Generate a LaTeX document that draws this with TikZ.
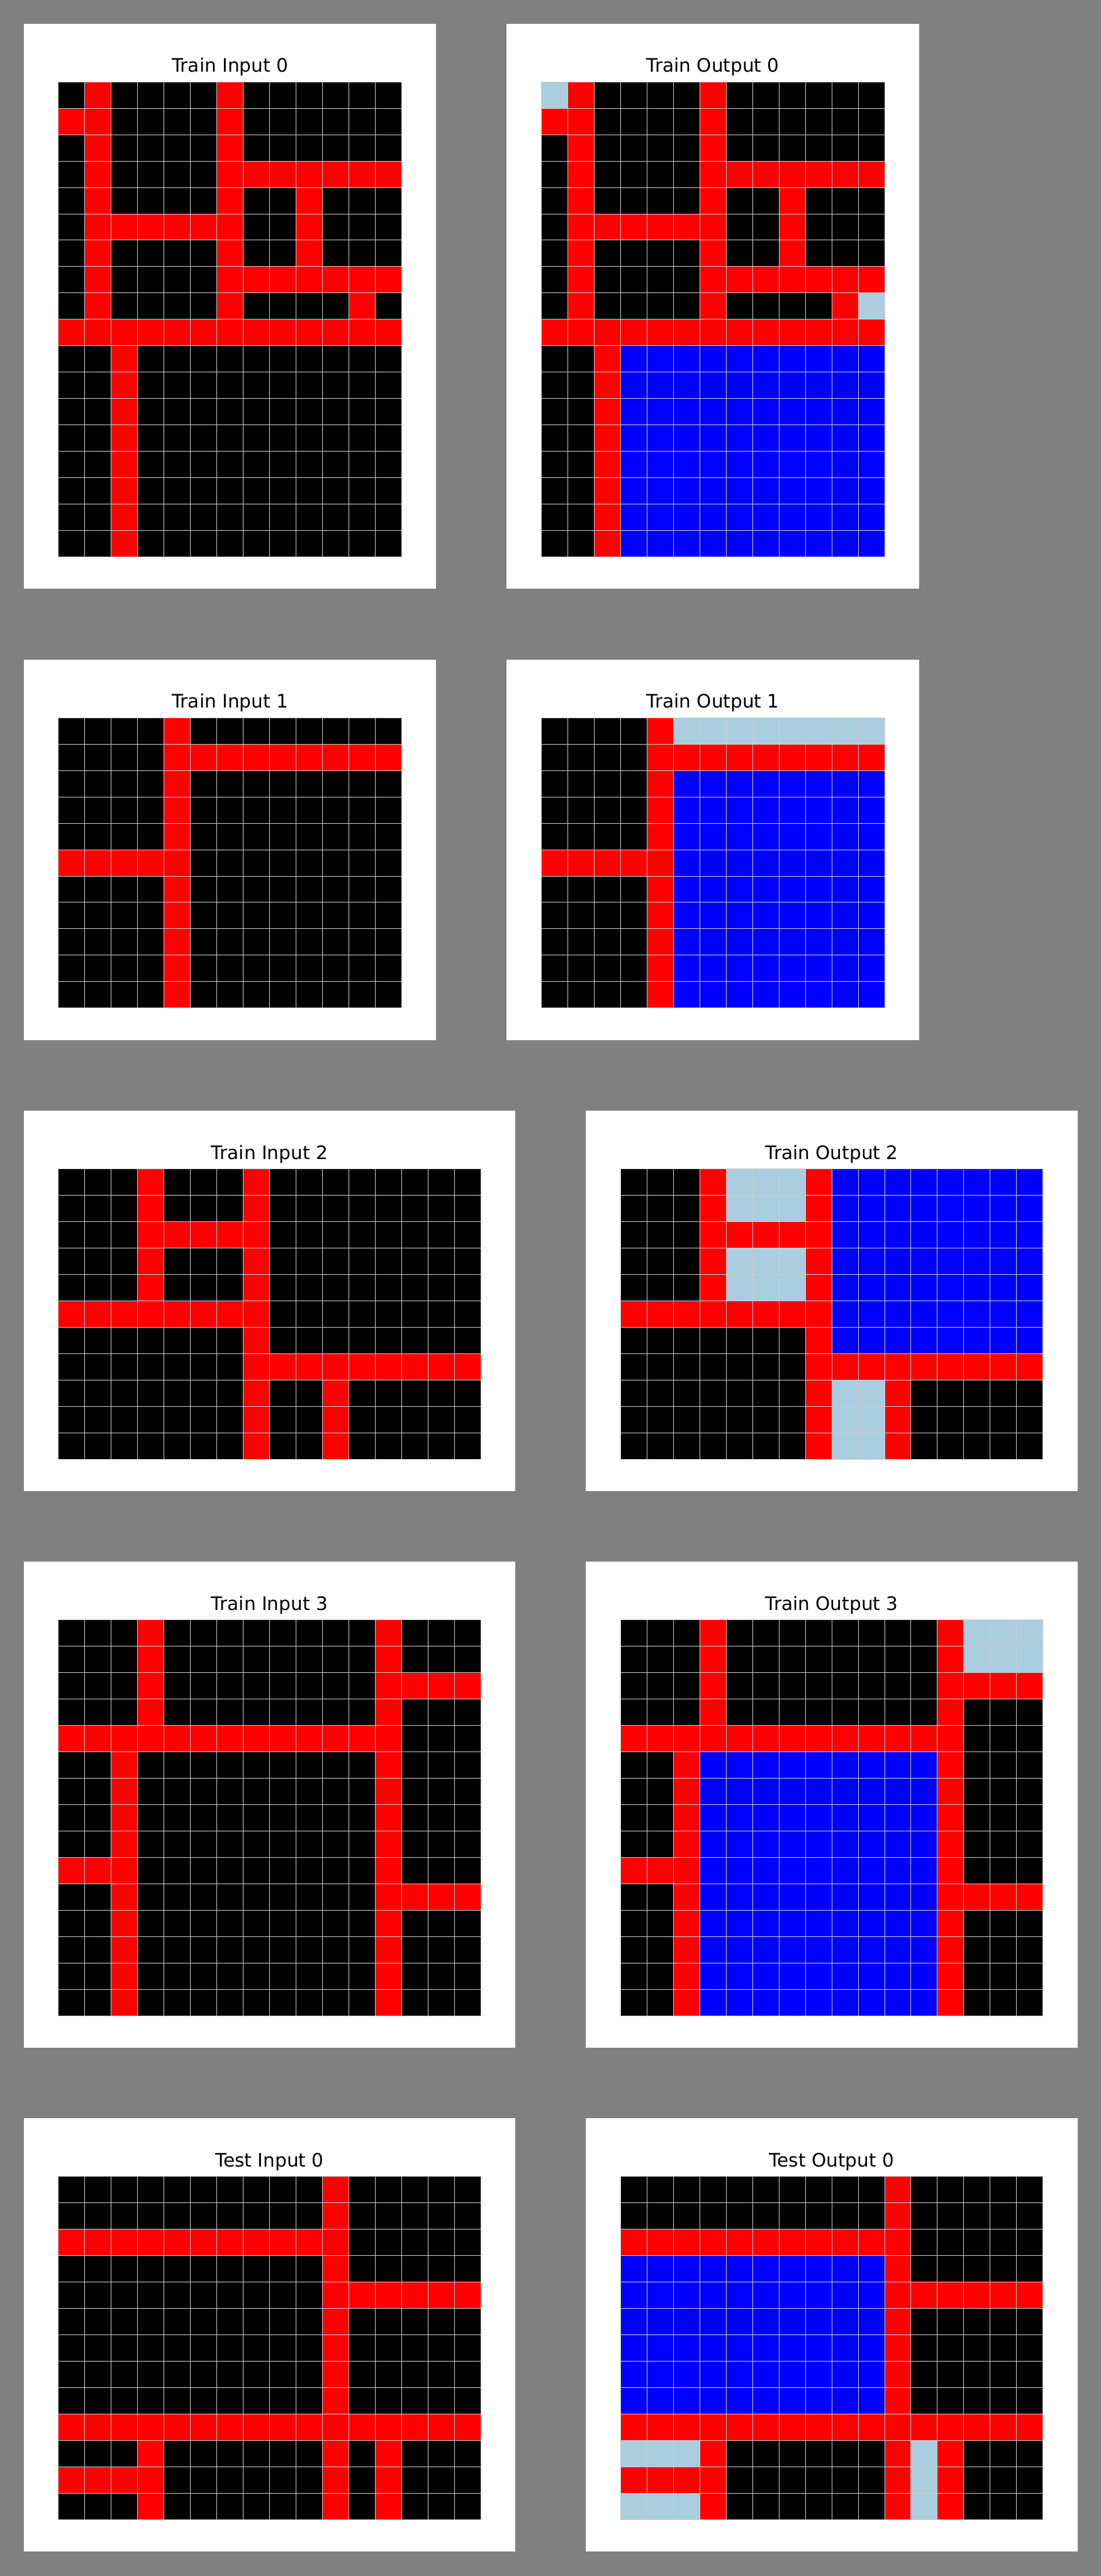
\documentclass[tikz,border=0pt]{standalone}
\usepackage{fontspec}
\setmainfont{DejaVu Sans}
\definecolor{col0}{RGB}{0,0,0}
\definecolor{col1}{RGB}{0,0,255}
\definecolor{col2}{RGB}{255,0,0}
\definecolor{col8}{RGB}{171,205,224}
\definecolor{bggray}{RGB}{128,128,128}
\definecolor{gridln}{RGB}{205,205,205}
\newcommand\cellsz{16.07}
\tikzset{
  paneltitle/.style={font=\fontsize{16.1}{19}\selectfont, anchor=base, inner sep=0pt},
  gridline/.style={draw=gridln, line width=0.45pt},
  panelbox/.style={fill=white}
}
% #1 name, #2 bx, #3 by, #4 ncols, #5 nrows, #6 title, #7 rows
\newcommand\arcpanel[7]{%
  \pgfmathsetmacro\pw{#4*\cellsz+42}%
  \pgfmathsetmacro\ph{#5*\cellsz+54.8}%
  \fill[panelbox] (#2,#3) rectangle ++(\pw,\ph);
  \node[paneltitle] (#1) at ({#2+\pw/2},{#3+29.5}) {#6};
  \foreach \rowlist [count=\r from 0] in {#7} {
    \foreach \v [count=\c from 0] in \rowlist {
      \fill[fill=col\v] ({#2+21+\c*\cellsz},{#3+35.3+\r*\cellsz}) rectangle ++(\cellsz,\cellsz);
    }
  }
  \foreach \i in {0,...,#4} \draw[gridline] ({#2+21+\i*\cellsz},{#3+35.3}) -- ++(0,{#5*\cellsz});
  \foreach \j in {0,...,#5} \draw[gridline] ({#2+21},{#3+35.3+\j*\cellsz}) -- ++({#4*\cellsz},0);
}
\begin{document}
\begin{tikzpicture}[x=0.05cm, y=-0.05cm]
\fill[bggray] (0,0) rectangle (670,1568.3);
\useasboundingbox (0,0) rectangle (670,1568.3);

\arcpanel{tin0}{14.5}{14.5}{13}{18}{Train Input 0}{
{0,2,0,0,0,0,2,0,0,0,0,0,0},
{2,2,0,0,0,0,2,0,0,0,0,0,0},
{0,2,0,0,0,0,2,0,0,0,0,0,0},
{0,2,0,0,0,0,2,2,2,2,2,2,2},
{0,2,0,0,0,0,2,0,0,2,0,0,0},
{0,2,2,2,2,2,2,0,0,2,0,0,0},
{0,2,0,0,0,0,2,0,0,2,0,0,0},
{0,2,0,0,0,0,2,2,2,2,2,2,2},
{0,2,0,0,0,0,2,0,0,0,0,2,0},
{2,2,2,2,2,2,2,2,2,2,2,2,2},
{0,0,2,0,0,0,0,0,0,0,0,0,0},
{0,0,2,0,0,0,0,0,0,0,0,0,0},
{0,0,2,0,0,0,0,0,0,0,0,0,0},
{0,0,2,0,0,0,0,0,0,0,0,0,0},
{0,0,2,0,0,0,0,0,0,0,0,0,0},
{0,0,2,0,0,0,0,0,0,0,0,0,0},
{0,0,2,0,0,0,0,0,0,0,0,0,0},
{0,0,2,0,0,0,0,0,0,0,0,0,0}}

\arcpanel{tout0}{308.4}{14.5}{13}{18}{Train Output 0}{
{8,2,0,0,0,0,2,0,0,0,0,0,0},
{2,2,0,0,0,0,2,0,0,0,0,0,0},
{0,2,0,0,0,0,2,0,0,0,0,0,0},
{0,2,0,0,0,0,2,2,2,2,2,2,2},
{0,2,0,0,0,0,2,0,0,2,0,0,0},
{0,2,2,2,2,2,2,0,0,2,0,0,0},
{0,2,0,0,0,0,2,0,0,2,0,0,0},
{0,2,0,0,0,0,2,2,2,2,2,2,2},
{0,2,0,0,0,0,2,0,0,0,0,2,8},
{2,2,2,2,2,2,2,2,2,2,2,2,2},
{0,0,2,1,1,1,1,1,1,1,1,1,1},
{0,0,2,1,1,1,1,1,1,1,1,1,1},
{0,0,2,1,1,1,1,1,1,1,1,1,1},
{0,0,2,1,1,1,1,1,1,1,1,1,1},
{0,0,2,1,1,1,1,1,1,1,1,1,1},
{0,0,2,1,1,1,1,1,1,1,1,1,1},
{0,0,2,1,1,1,1,1,1,1,1,1,1},
{0,0,2,1,1,1,1,1,1,1,1,1,1}}

\arcpanel{tin1}{14.5}{401.6}{13}{11}{Train Input 1}{
{0,0,0,0,2,0,0,0,0,0,0,0,0},
{0,0,0,0,2,2,2,2,2,2,2,2,2},
{0,0,0,0,2,0,0,0,0,0,0,0,0},
{0,0,0,0,2,0,0,0,0,0,0,0,0},
{0,0,0,0,2,0,0,0,0,0,0,0,0},
{2,2,2,2,2,0,0,0,0,0,0,0,0},
{0,0,0,0,2,0,0,0,0,0,0,0,0},
{0,0,0,0,2,0,0,0,0,0,0,0,0},
{0,0,0,0,2,0,0,0,0,0,0,0,0},
{0,0,0,0,2,0,0,0,0,0,0,0,0},
{0,0,0,0,2,0,0,0,0,0,0,0,0}}

\arcpanel{tout1}{308.4}{401.6}{13}{11}{Train Output 1}{
{0,0,0,0,2,8,8,8,8,8,8,8,8},
{0,0,0,0,2,2,2,2,2,2,2,2,2},
{0,0,0,0,2,1,1,1,1,1,1,1,1},
{0,0,0,0,2,1,1,1,1,1,1,1,1},
{0,0,0,0,2,1,1,1,1,1,1,1,1},
{2,2,2,2,2,1,1,1,1,1,1,1,1},
{0,0,0,0,2,1,1,1,1,1,1,1,1},
{0,0,0,0,2,1,1,1,1,1,1,1,1},
{0,0,0,0,2,1,1,1,1,1,1,1,1},
{0,0,0,0,2,1,1,1,1,1,1,1,1},
{0,0,0,0,2,1,1,1,1,1,1,1,1}}

\arcpanel{tin2}{14.5}{676.2}{16}{11}{Train Input 2}{
{0,0,0,2,0,0,0,2,0,0,0,0,0,0,0,0},
{0,0,0,2,0,0,0,2,0,0,0,0,0,0,0,0},
{0,0,0,2,2,2,2,2,0,0,0,0,0,0,0,0},
{0,0,0,2,0,0,0,2,0,0,0,0,0,0,0,0},
{0,0,0,2,0,0,0,2,0,0,0,0,0,0,0,0},
{2,2,2,2,2,2,2,2,0,0,0,0,0,0,0,0},
{0,0,0,0,0,0,0,2,0,0,0,0,0,0,0,0},
{0,0,0,0,0,0,0,2,2,2,2,2,2,2,2,2},
{0,0,0,0,0,0,0,2,0,0,2,0,0,0,0,0},
{0,0,0,0,0,0,0,2,0,0,2,0,0,0,0,0},
{0,0,0,0,0,0,0,2,0,0,2,0,0,0,0,0}}

\arcpanel{tout2}{356.6}{676.2}{16}{11}{Train Output 2}{
{0,0,0,2,8,8,8,2,1,1,1,1,1,1,1,1},
{0,0,0,2,8,8,8,2,1,1,1,1,1,1,1,1},
{0,0,0,2,2,2,2,2,1,1,1,1,1,1,1,1},
{0,0,0,2,8,8,8,2,1,1,1,1,1,1,1,1},
{0,0,0,2,8,8,8,2,1,1,1,1,1,1,1,1},
{2,2,2,2,2,2,2,2,1,1,1,1,1,1,1,1},
{0,0,0,0,0,0,0,2,1,1,1,1,1,1,1,1},
{0,0,0,0,0,0,0,2,2,2,2,2,2,2,2,2},
{0,0,0,0,0,0,0,2,8,8,2,0,0,0,0,0},
{0,0,0,0,0,0,0,2,8,8,2,0,0,0,0,0},
{0,0,0,0,0,0,0,2,8,8,2,0,0,0,0,0}}

\arcpanel{tin3}{14.5}{950.8}{16}{15}{Train Input 3}{
{0,0,0,2,0,0,0,0,0,0,0,0,2,0,0,0},
{0,0,0,2,0,0,0,0,0,0,0,0,2,0,0,0},
{0,0,0,2,0,0,0,0,0,0,0,0,2,2,2,2},
{0,0,0,2,0,0,0,0,0,0,0,0,2,0,0,0},
{2,2,2,2,2,2,2,2,2,2,2,2,2,0,0,0},
{0,0,2,0,0,0,0,0,0,0,0,0,2,0,0,0},
{0,0,2,0,0,0,0,0,0,0,0,0,2,0,0,0},
{0,0,2,0,0,0,0,0,0,0,0,0,2,0,0,0},
{0,0,2,0,0,0,0,0,0,0,0,0,2,0,0,0},
{2,2,2,0,0,0,0,0,0,0,0,0,2,0,0,0},
{0,0,2,0,0,0,0,0,0,0,0,0,2,2,2,2},
{0,0,2,0,0,0,0,0,0,0,0,0,2,0,0,0},
{0,0,2,0,0,0,0,0,0,0,0,0,2,0,0,0},
{0,0,2,0,0,0,0,0,0,0,0,0,2,0,0,0},
{0,0,2,0,0,0,0,0,0,0,0,0,2,0,0,0}}

\arcpanel{tout3}{356.6}{950.8}{16}{15}{Train Output 3}{
{0,0,0,2,0,0,0,0,0,0,0,0,2,8,8,8},
{0,0,0,2,0,0,0,0,0,0,0,0,2,8,8,8},
{0,0,0,2,0,0,0,0,0,0,0,0,2,2,2,2},
{0,0,0,2,0,0,0,0,0,0,0,0,2,0,0,0},
{2,2,2,2,2,2,2,2,2,2,2,2,2,0,0,0},
{0,0,2,1,1,1,1,1,1,1,1,1,2,0,0,0},
{0,0,2,1,1,1,1,1,1,1,1,1,2,0,0,0},
{0,0,2,1,1,1,1,1,1,1,1,1,2,0,0,0},
{0,0,2,1,1,1,1,1,1,1,1,1,2,0,0,0},
{2,2,2,1,1,1,1,1,1,1,1,1,2,0,0,0},
{0,0,2,1,1,1,1,1,1,1,1,1,2,2,2,2},
{0,0,2,1,1,1,1,1,1,1,1,1,2,0,0,0},
{0,0,2,1,1,1,1,1,1,1,1,1,2,0,0,0},
{0,0,2,1,1,1,1,1,1,1,1,1,2,0,0,0},
{0,0,2,1,1,1,1,1,1,1,1,1,2,0,0,0}}

\arcpanel{tstin0}{14.5}{1289.65}{16}{13}{Test Input 0}{
{0,0,0,0,0,0,0,0,0,0,2,0,0,0,0,0},
{0,0,0,0,0,0,0,0,0,0,2,0,0,0,0,0},
{2,2,2,2,2,2,2,2,2,2,2,0,0,0,0,0},
{0,0,0,0,0,0,0,0,0,0,2,0,0,0,0,0},
{0,0,0,0,0,0,0,0,0,0,2,2,2,2,2,2},
{0,0,0,0,0,0,0,0,0,0,2,0,0,0,0,0},
{0,0,0,0,0,0,0,0,0,0,2,0,0,0,0,0},
{0,0,0,0,0,0,0,0,0,0,2,0,0,0,0,0},
{0,0,0,0,0,0,0,0,0,0,2,0,0,0,0,0},
{2,2,2,2,2,2,2,2,2,2,2,2,2,2,2,2},
{0,0,0,2,0,0,0,0,0,0,2,0,2,0,0,0},
{2,2,2,2,0,0,0,0,0,0,2,0,2,0,0,0},
{0,0,0,2,0,0,0,0,0,0,2,0,2,0,0,0}}

\arcpanel{tstout0}{356.6}{1289.65}{16}{13}{Test Output 0}{
{0,0,0,0,0,0,0,0,0,0,2,0,0,0,0,0},
{0,0,0,0,0,0,0,0,0,0,2,0,0,0,0,0},
{2,2,2,2,2,2,2,2,2,2,2,0,0,0,0,0},
{1,1,1,1,1,1,1,1,1,1,2,0,0,0,0,0},
{1,1,1,1,1,1,1,1,1,1,2,2,2,2,2,2},
{1,1,1,1,1,1,1,1,1,1,2,0,0,0,0,0},
{1,1,1,1,1,1,1,1,1,1,2,0,0,0,0,0},
{1,1,1,1,1,1,1,1,1,1,2,0,0,0,0,0},
{1,1,1,1,1,1,1,1,1,1,2,0,0,0,0,0},
{2,2,2,2,2,2,2,2,2,2,2,2,2,2,2,2},
{8,8,8,2,0,0,0,0,0,0,2,8,2,0,0,0},
{2,2,2,2,0,0,0,0,0,0,2,8,2,0,0,0},
{8,8,8,2,0,0,0,0,0,0,2,8,2,0,0,0}}
\end{tikzpicture}
\end{document}
